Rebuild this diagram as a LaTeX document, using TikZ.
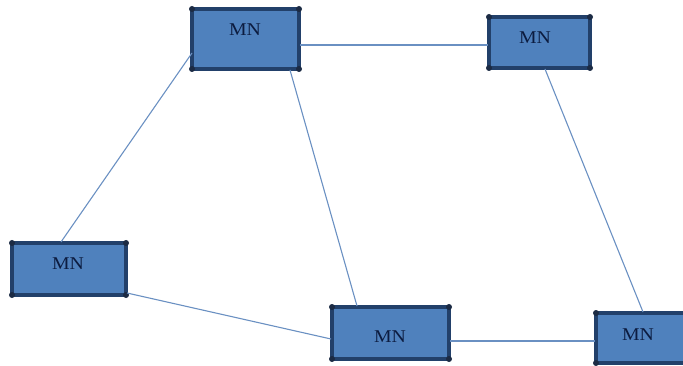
\documentclass[tikz,border=0pt]{standalone}
\usepackage{fontspec}
\setmainfont{Liberation Serif}
\definecolor{boxfill}{HTML}{4F81BD}
\definecolor{boxedge}{HTML}{22406A}
\definecolor{dotcol}{HTML}{1C2B44}
\definecolor{linkcol}{HTML}{6A90C2}
\definecolor{labelcol}{HTML}{0C1C40}
\begin{document}
\begin{tikzpicture}[x=1pt,y=-1pt,
  mnbox/.style={draw=boxedge,fill=boxfill,line width=3.4pt,rectangle},
  link/.style={draw=linkcol,line width=1.1pt},
  mnlabel/.style={text=labelcol,font=\fontsize{18}{18}\selectfont,xscale=1.1,inner sep=0pt},
  corner/.style={fill=dotcol,circle,inner sep=0pt,minimum size=6pt}]
\useasboundingbox (0,0) rectangle (683,366);
% boxes: corners given as (left,top) and (right,bottom)
\foreach \n/\l/\t/\r/\b in {a/192/9/299/69, b/489/17/590/68, c/12/243/126/295, d/332/307/449/359, e/596/313/700/363}{
  \path[mnbox] (\l,\t) rectangle (\r,\b);
  \coordinate (\n) at ({(\l+\r)/2},{(\t+\b)/2});
  \foreach \x/\y in {\l/\t,\r/\t,\l/\b,\r/\b}{\node[corner] at (\x,\y) {};}
}
% connector end points on the box edges
\coordinate (a-e) at (300,45);
\coordinate (b-w) at (488,45);
\coordinate (a-w) at (192,53);
\coordinate (c-n) at (61,242);
\coordinate (a-s) at (290,70);
\coordinate (d-n) at (357,306);
\coordinate (b-s) at (545,69);
\coordinate (e-n) at (643,312);
\coordinate (c-se) at (127,293);
\coordinate (d-w) at (331,339);
\coordinate (d-e) at (450,341);
\coordinate (e-w) at (595,341);
\draw[link] (a-e) -- (b-w);
\draw[link] (a-w) -- (c-n);
\draw[link] (a-s) -- (d-n);
\draw[link] (b-s) -- (e-n);
\draw[link] (c-se) -- (d-w);
\draw[link] (d-e) -- (e-w);
% labels
\node[mnlabel] (la) at (245,30) {MN};
\node[mnlabel] (lb) at (535,38) {MN};
\node[mnlabel] (lc) at (68,264) {MN};
\node[mnlabel] (ld) at (390,337) {MN};
\node[mnlabel] (le) at (638,335) {MN};
\end{tikzpicture}
\end{document}
